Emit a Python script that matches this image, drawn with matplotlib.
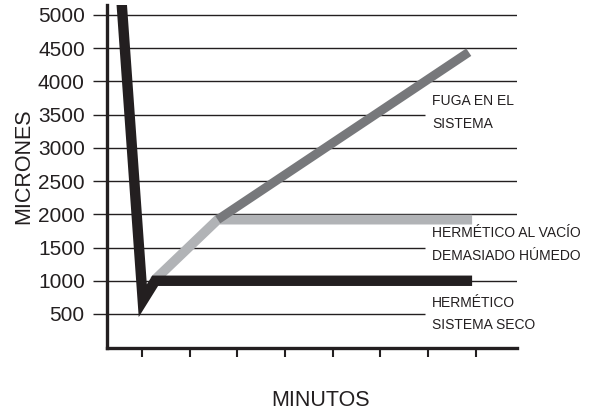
import matplotlib
matplotlib.use("Agg")
import matplotlib.pyplot as plt

plt.rcParams['font.family'] = ['Liberation Sans', 'DejaVu Sans']

INK = "#231f20"

# tick positions (minutes, unlabeled) and micron gridlines
minute_ticks = [1, 2, 3, 4, 5, 6, 7, 8]
micron_ticks = [500, 1000, 1500, 2000, 2500, 3000, 3500, 4000, 4500, 5000]
short_grid = [500, 1500, 3500]   # lines cut short where the labels sit

# curves
dry_x = [0.57, 1.02, 1.28, 7.92]
dry_y = [5250, 700, 1000, 1000]
wet_x = [1.25, 2.59, 7.92]
wet_y = [1000, 1920, 1920]
leak_x = [2.59, 7.85]
leak_y = [1920, 4440]

labels = ["FUGA EN EL\nSISTEMA", "HERMÉTICO AL VACÍO\nDEMASIADO HÚMEDO", "HERMÉTICO\nSISTEMA SECO"]
label_y = [3530, 1540, 500]

fig = plt.figure(figsize=(5.96, 4.12), dpi=100)
ax = fig.add_axes([0.1795, 0.1553, 0.6879, 0.8326])
ax.set_xlim(0.27, 8.86)
ax.set_ylim(-12, 5150)

for v in micron_ticks:
    x_end = 6.93 if v in short_grid else 8.86
    ax.plot([0.27, x_end], [v, v], color=INK, lw=1.0, zorder=1, solid_capstyle='butt')

ax.plot(wet_x, wet_y, color="#b1b3b6", lw=7.0, solid_capstyle='butt', solid_joinstyle='miter', zorder=2)
ax.plot(leak_x, leak_y, color="#77787b", lw=6.5, solid_capstyle='butt', zorder=3)
ax.plot(dry_x, dry_y, color=INK, lw=7.5, solid_capstyle='butt', solid_joinstyle='miter', zorder=4)

for txt, y in zip(labels, label_y):
    ax.text(7.08, y, txt, fontsize=10, color=INK, ha='left', va='center',
            linespacing=1.8, clip_on=False)

ax.set_xticks(minute_ticks)
ax.set_xticklabels([])
ax.set_yticks(micron_ticks)
ax.set_yticklabels([str(v) for v in micron_ticks], fontsize=15, color=INK)
ax.tick_params(axis='y', length=10, width=1.0, color=INK, pad=6)
ax.tick_params(axis='x', length=6.5, width=1.5, color=INK)

for side in ['top', 'right']:
    ax.spines[side].set_visible(False)
for side in ['left', 'bottom']:
    ax.spines[side].set_linewidth(2.4)
    ax.spines[side].set_color(INK)

ax.set_ylabel("MICRONES", fontsize=15.5, color=INK, va='center')
ax.yaxis.set_label_coords(-0.2024, 0.53)
ax.set_xlabel("MINUTOS", fontsize=15.5, color=INK, va='center')
ax.xaxis.set_label_coords(0.522, -0.152)

fig.savefig("out.png", dpi=100)
